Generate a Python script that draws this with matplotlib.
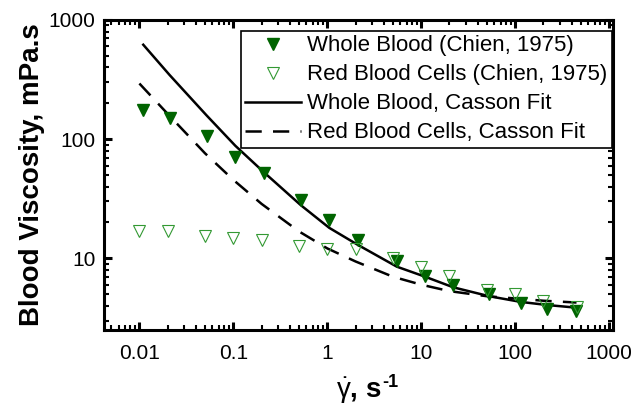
import matplotlib
matplotlib.use("Agg")
import matplotlib.pyplot as plt
from matplotlib.ticker import FuncFormatter, LogLocator, NullFormatter

plt.rcParams['font.family'] = ['Liberation Sans', 'DejaVu Sans']
plt.rcParams['mathtext.fontset'] = 'custom'
plt.rcParams['mathtext.rm'] = 'Liberation Sans'
plt.rcParams['mathtext.it'] = 'Liberation Sans:italic'
plt.rcParams['mathtext.bf'] = 'Liberation Sans:bold'

# === DATA ===
wb_rate = [0.011, 0.021, 0.052, 0.105, 0.21, 0.52, 1.05, 2.1, 5.5, 11, 22, 53, 115, 220, 445]
wb_visc = [175, 150, 106, 71, 52, 31, 21, 14.1, 9.4, 7.1, 6.0, 5.0, 4.2, 3.75, 3.6]
wb_fit = [620, 345, 158, 88, 53, 28, 18, 13, 8.5, 7.0, 5.7, 4.8, 4.3, 4.05, 3.85]

rbc_rate = [0.01, 0.02, 0.05, 0.1, 0.2, 0.5, 1, 2, 5, 10, 20, 50, 100, 200, 450]
rbc_visc = [16.8, 16.8, 15.5, 14.7, 14.1, 12.6, 11.9, 11.9, 10.0, 8.4, 7.1, 5.4, 5.0, 4.4, 3.9]
rbc_fit = [293, 163, 76, 45.5, 28.6, 16.8, 12.1, 9.4, 7.0, 6.0, 5.3, 4.8, 4.6, 4.4, 4.25]

x_ticks = [0.01, 0.1, 1, 10, 100, 1000]
y_ticks = [10, 100, 1000]

# === FIGURE ===
fig = plt.figure(figsize=(6.36, 4.13), dpi=100)
ax = fig.add_axes([0.1635, 0.201, 0.8003, 0.7506])

ax.plot(wb_rate, wb_visc, linestyle="none", marker="v", markersize=8.5,
        color="#006400", label="Whole Blood (Chien, 1975)", zorder=3)
ax.plot(rbc_rate, rbc_visc, linestyle="none", marker="v", markersize=8.5,
        markerfacecolor="none", markeredgecolor="#339933", markeredgewidth=0.8,
        label="Red Blood Cells (Chien, 1975)", zorder=3)
ax.plot(wb_rate, wb_fit, color="black", linewidth=1.8,
        label="Whole Blood, Casson Fit")
ax.plot(rbc_rate, rbc_fit, color="black", linewidth=1.8, linestyle=(0, (6.5, 4.5)),
        label="Red Blood Cells, Casson Fit")

ax.set_xscale("log")
ax.set_yscale("log")
ax.set_xlim(0.0042, 1100)
ax.set_ylim(2.5, 1000)

ax.set_xticks(x_ticks)
ax.set_yticks(y_ticks)
fmt = FuncFormatter(lambda v, p: f"{v:g}")
ax.xaxis.set_major_formatter(fmt)
ax.yaxis.set_major_formatter(fmt)
for axis in (ax.xaxis, ax.yaxis):
	axis.set_minor_locator(LogLocator(base=10, subs=range(2, 10), numticks=20))
	axis.set_minor_formatter(NullFormatter())

ax.tick_params(which="both", direction="in", top=True, right=True)
ax.tick_params(which="major", length=6, width=2.2, labelsize=15)
ax.tick_params(axis="x", which="major", pad=10)
ax.tick_params(axis="y", which="major", pad=6)
ax.tick_params(which="minor", length=3.5, width=1.5)
for sp in ax.spines.values():
	sp.set_linewidth(2.2)

ax.set_ylabel("Blood Viscosity, mPa.s", fontsize=20, fontweight="bold", labelpad=3)
ax.set_xlabel(r"$\dot{\mathrm{\gamma}}$, s", fontsize=20, fontweight="bold", labelpad=9)

leg = ax.legend(loc="upper right", bbox_to_anchor=(0.998, 0.9645), fontsize=16,
                frameon=True, fancybox=False, framealpha=1, edgecolor="black",
                borderpad=0.2, labelspacing=0.36, handlelength=2.5,
                handletextpad=0.3, borderaxespad=0)
leg.get_frame().set_linewidth(1.2)

# superscript "-1" with a plain hyphen, placed after the x label
fig.canvas.draw()
bb = ax.xaxis.label.get_window_extent()
fig.text((bb.x1 + 1) / fig.bbox.width, (bb.y1 + 1) / fig.bbox.height, "-1",
         fontsize=13, fontweight="bold", ha="left", va="top")

fig.savefig("out.png", dpi=100)
